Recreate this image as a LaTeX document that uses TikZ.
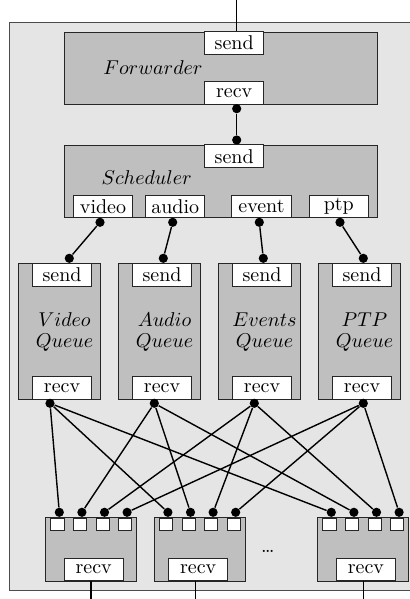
\documentclass[tikz,border=0pt]{standalone}
\usepackage{tikz}

\begin{document}
\begin{tikzpicture}[x=0.5pt,y=-0.5pt,
  unit/.style={draw=black!85,fill=gray!50,inner sep=0pt},
  port/.style={draw=black!85,fill=white,inner sep=0pt,minimum width=29.65pt,minimum height=11.35pt},
  pin/.style={draw=black!85,fill=white,inner sep=0pt,minimum width=6.65pt,minimum height=6.2pt},
  dot/.style={circle,fill=black,inner sep=0pt,minimum size=4.6pt},
  wire/.style={line width=0.7pt}]
\path[use as bounding box] (0,0) rectangle (410,599);
\path[draw=black!70,fill=gray!20] (9.5,22.7) rectangle (412,590);

% forwarder
\node[unit,minimum width=156.85pt,minimum height=36.15pt] (fwd) at (220.85,68.15) {};
\node[port] (fwdsend) at (234.2,43) {send};
\node[port] (fwdrecv) at (234.2,92.8) {recv};
\node (fwdname) at (153,68) {$Forwarder$};
\coordinate (top) at (236.7,0);
\draw[wire] (top) -- (top |- fwdsend.north);

% scheduler
\node[unit,minimum width=156.85pt,minimum height=36.2pt] (sch) at (220.85,181.5) {};
\node[port] (schsend) at (234.2,156.2) {send};
\node (schname) at (146.7,177.7) {$Scheduler$};
\node[dot] (fwdout) at (236.7,108.7) {};
\node[dot] (schin) at (236.7,140) {};
\draw[wire] (fwdout) -- (schin);

% queues
\foreach \i/\n/\lbl/\x/\d/\q/\o in {0/video/Video/103/100/69.3/50,
    1/audio/Audio/175.2/172.7/163.3/154.3,
    2/event/Events/261.5/259.3/263.3/254.3,
    3/ptp/PTP/338.8/340/363.3/363.3}{
  \node[port] (s\n) at (\x,206.3) {\n};
  \node[unit,minimum width=40.85pt,minimum height=68pt] (q\n) at (59.15+100*\i,331.3) {};
  \node[port] (qsend\n) at (62+100*\i,274.65) {send};
  \node[port] (qrecv\n) at (62+100*\i,388) {recv};
  \node[align=center] (qname\n) at (64.5+100*\i,332) {$\lbl$\\[-1.2pt]$Queue$};
  \node[dot] (sd\n) at (\d,222.3) {};
  \node[dot] (qin\n) at (\q,258.3) {};
  \node[dot] (qout\n) at (\o,403.3) {};
  \draw[wire] (sd\n) -- (qin\n);
}

% output blocks
\foreach \b/\L/\r/\l in {1/45.7/93.7/91, 2/154.3/198.2/195.7, 3/317.7/365.9/363.3}{
  \node[unit,minimum width=45.5pt,minimum height=31.85pt] (out\b) at (\L+45.5,549.15) {};
  \node[port] (outrecv\b) at (\r,569.4) {recv};
  \foreach \k in {1,...,4}{
    \node[pin] (pin\b\k) at (\L+11.65+22.6*\k-22.6,524.5) {};
    \node[dot] (pd\b\k) at (\L+13.6+22.6*\k-22.6,512.3) {};
  }
  \coordinate (bot\b) at (\l,599);
  \draw[wire] (outrecv\b.south -| bot\b) -- (bot\b);
}
\node (etc) at (267.7,551.7) {\dots};

% queue to output wiring
\foreach \n/\k in {video/1,audio/2,event/3,ptp/4}
  \foreach \b in {1,2,3}
    \draw[wire] (qout\n) -- (pd\b\k);
\end{tikzpicture}
\end{document}
